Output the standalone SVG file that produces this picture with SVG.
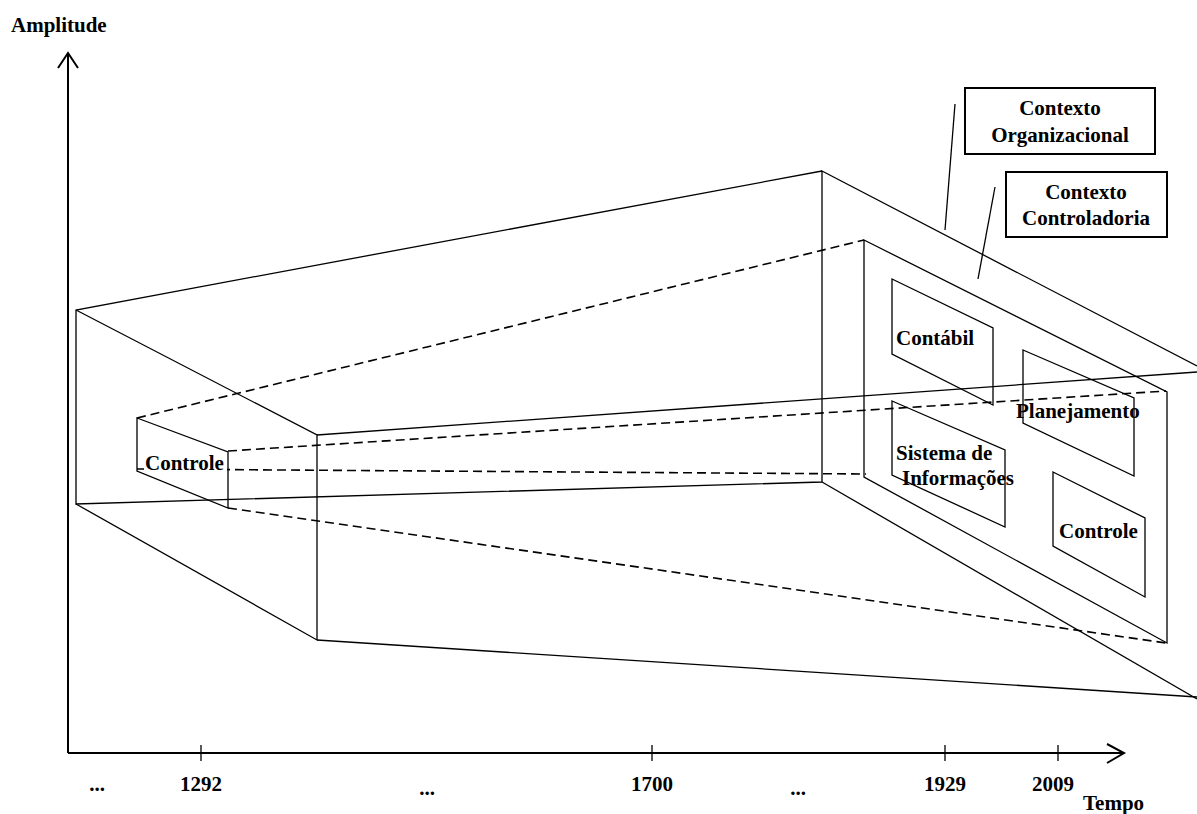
<svg xmlns="http://www.w3.org/2000/svg" width="1197" height="814" viewBox="0 0 1197 814">
<style>
text{font-family:"Liberation Serif","Times New Roman",serif;font-weight:bold;font-size:21px;fill:#000}
.s{fill:none;stroke:#000;stroke-width:1.3}
.d{fill:none;stroke:#000;stroke-width:1.6;stroke-dasharray:9 5}
.ax{fill:none;stroke:#000;stroke-width:2}
.box{fill:#fff;stroke:#000;stroke-width:2}
.m{text-anchor:middle}
</style>
<rect width="1197" height="814" fill="#fff"/>
<g id="axes">
<polyline class="ax" points="68,753 68,53"/>
<polyline class="ax" points="58,68 68,53 78,68"/>
<polyline class="ax" points="68,753 1124,753"/>
<polyline class="ax" points="1107,744 1124,753 1107,763"/>
<line class="s" x1="201" y1="745" x2="201" y2="761"/>
<line class="s" x1="652" y1="745" x2="652" y2="761"/>
<line class="s" x1="945" y1="745" x2="945" y2="761"/>
<line class="s" x1="1058" y1="745" x2="1058" y2="761"/>
<text x="11" y="32">Amplitude</text>
<text class="m" x="97" y="791">...</text>
<text class="m" x="201" y="791">1292</text>
<text class="m" x="427" y="795">...</text>
<text class="m" x="652" y="791">1700</text>
<text class="m" x="798" y="795">...</text>
<text class="m" x="945" y="791">1929</text>
<text class="m" x="1053" y="791">2009</text>
<text x="1083" y="810">Tempo</text>
</g>
<g id="connectors">
<!-- outer structure -->
<polyline class="s" points="822,171 76,310 76,504 822,482 822,171 1197,366"/>
<line class="s" x1="822" y1="482" x2="1197" y2="699"/>
<polyline class="s" points="76,310 317,435 317,640 76,504"/>
<line class="s" x1="317" y1="435" x2="1197" y2="372"/>
<line class="s" x1="317" y1="640" x2="1197" y2="697"/>
<!-- dashed perspective -->
<line class="d" x1="137" y1="418" x2="864" y2="240"/>
<line class="d" x1="228" y1="451" x2="1166" y2="391"/>
<line class="d" x1="137" y1="469" x2="866" y2="474"/>
<line class="d" x1="228" y1="508" x2="1166" y2="643"/>
<!-- leaders -->
<line class="s" x1="955" y1="104" x2="945" y2="230" stroke-width="1.6"/>
<line class="s" x1="995" y1="187" x2="978" y2="279" stroke-width="1.6"/>
</g>
<g id="controle-left">
<polygon class="s" points="137,418 228,452 228,508 137,471"/>
<rect x="144" y="455" width="83" height="17" fill="#fff"/>
<text x="145" y="470">Controle</text>
</g>
<g id="painel">
<polygon class="s" points="864,240 1167,392 1167,643 864,477"/>
</g>
<g id="contabil">
<polygon class="s" points="892,279 993,328 993,405 892,354"/>
<text x="896" y="345">Contábil</text>
</g>
<g id="planejamento">
<polygon class="s" points="1023,350 1134,398 1134,476 1023,423"/>
<text x="1016" y="418">Planejamento</text>
</g>
<g id="sistema">
<polygon class="s" points="892,401 1005,450 1005,527 892,475"/>
<text x="896" y="460">Sistema de</text>
<text x="902" y="485">Informações</text>
</g>
<g id="controle-right">
<polygon class="s" points="1053,472 1145,518 1145,597 1053,546"/>
<text x="1059" y="538">Controle</text>
</g>
<g id="contexto-organizacional">
<rect class="box" x="965" y="88" width="190" height="66"/>
<text class="m" x="1060" y="115">Contexto</text>
<text class="m" x="1060" y="142">Organizacional</text>
</g>
<g id="contexto-controladoria">
<rect class="box" x="1006" y="172" width="161" height="65"/>
<text class="m" x="1086" y="199">Contexto</text>
<text class="m" x="1086" y="225">Controladoria</text>
</g>
</svg>
